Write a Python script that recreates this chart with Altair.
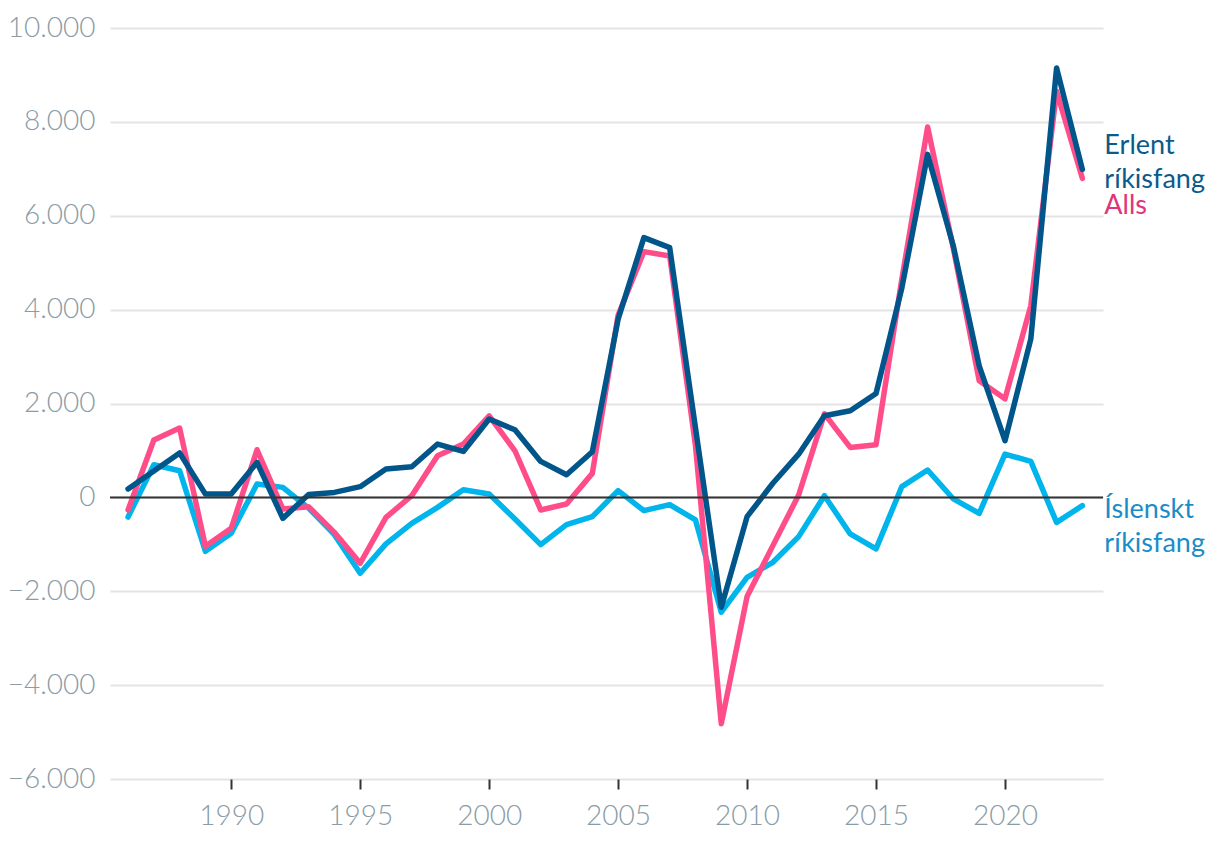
import altair as alt
import pandas as pd

years = list(range(1986, 2024))

erlent = [180, 560, 945, 70, 70, 745, -447, 60, 106, 228, 604, 653, 1136, 979, 1668,
          1440, 766, 483, 972, 3796, 5533, 5320, 1480, -2340, -411, 300, 920, 1739, 1845,
          2213, 4460, 7307, 5350, 2803, 1207, 3370, 9150, 6988]
alls = [-268, 1221, 1477, -1043, -660, 1015, -247, -198, -745, -1404, -426, 36, 887, 1136,
        1738, 993, -268, -141, 511, 3880, 5235, 5143, 1100, -4822, -2113, -1028, 50, 1780,
        1064, 1121, 4650, 7889, 5300, 2483, 2100, 4080, 8655, 6797]
islenskt = [-419, 696, 568, -1149, -766, 285, 213, -230, -794, -1617, -992, -553, -213, 164,
            72, -460, -1006, -581, -411, 143, -283, -155, -481, -2447, -1702, -1383, -836, 36,
            -779, -1098, 228, 583, -34, -340, 923, 766, -532, -177]

series_names = ["Íslenskt ríkisfang", "Alls", "Erlent ríkisfang"]
line_colors = ["#00b4ec", "#ff4d8a", "#00558b"]
label_colors = ["#1a8dc8", "#e0357a", "#0b5a8c"]
label_texts = ["Íslenskt\nríkisfang", "Alls", "Erlent\nríkisfang"]
y_ticks = [-6000, -4000, -2000, 0, 2000, 4000, 6000, 8000, 10000]
x_ticks = [1990, 1995, 2000, 2005, 2010, 2015, 2020]

rows = []
for name, vals in zip(series_names, [islenskt, alls, erlent]):
    for yr, v in zip(years, vals):
        rows.append({"year": yr, "value": v, "series": name})
df = pd.DataFrame(rows)

xscale = alt.Scale(domain=[1985.3, 2023.8], nice=False, zero=False)
yscale = alt.Scale(domain=[-6000, 10000], nice=False)

font = "Lato"

x_enc = alt.X("year:Q", scale=xscale,
              axis=alt.Axis(values=x_ticks, format="d", grid=False, domain=False,
                            ticks=True, tickColor="#333333", tickWidth=2, tickSize=10,
                            labelPadding=13, labelColor="#8a9ca6", labelFont=font,
                            labelFontSize=28, labelFontWeight=300, title=None))
y_enc = alt.Y("value:Q", scale=yscale,
              axis=alt.Axis(values=y_ticks, grid=True, gridColor="#e4e4e4", gridWidth=2,
                            domain=False, ticks=False, labelPadding=15,
                            labelColor="#8a9ca6", labelFont=font, labelFontSize=28,
                            labelFontWeight=300, title=None,
                            labelExpr="replace(format(datum.value, ','), ',', '.')"))

lines = alt.Chart(df).mark_line(strokeWidth=5.5, strokeCap="round", strokeJoin="round").encode(
    x=x_enc,
    y=y_enc,
    color=alt.Color("series:N", scale=alt.Scale(domain=series_names, range=line_colors),
                    legend=None),
    order=alt.Order("year:Q"),
    detail="series:N",
)

zero = alt.Chart(pd.DataFrame({"value": [0]})).mark_rule(color="#333333", strokeWidth=2).encode(
    y=alt.Y("value:Q", scale=yscale)
)

last = pd.DataFrame({
    "year": [years[-1]] * 3,
    "value": [islenskt[-1], alls[-1], erlent[-1]],
    "text": label_texts,
    "series": series_names,
})

dys = {"Íslenskt ríkisfang": 12, "Alls": 36, "Erlent ríkisfang": -15}
label_layers = []
for name, col in zip(series_names, label_colors):
    label_layers.append(
        alt.Chart(last[last["series"] == name]).mark_text(
            align="left", baseline="alphabetic", dx=22, dy=dys[name], lineBreak="\n",
            lineHeight=34, font=font, fontSize=27, color=col
        ).encode(
            x=alt.X("year:Q", scale=xscale),
            y=alt.Y("value:Q", scale=yscale),
            text="text:N",
        )
    )

chart = alt.layer(lines, zero, *label_layers).properties(
    width=993, height=751,
    autosize=alt.AutoSizeParams(type="none"),
    padding={"left": 102, "top": 20, "right": 108, "bottom": 55},
).configure_view(stroke=None)

chart.save("out.html", embed_options={"renderer": "svg", "actions": False})
